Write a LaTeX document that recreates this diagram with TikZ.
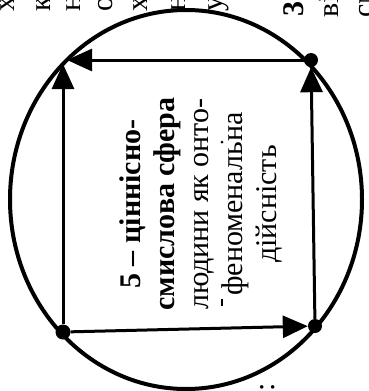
\documentclass[tikz,border=0pt]{standalone}
\usepackage{fontspec}
\setmainfont{Liberation Serif}
\usetikzlibrary{arrows.meta}
\begin{document}
\begin{tikzpicture}[x=1pt,y=-1pt,
  arr/.style={line width=3pt,-{Triangle[length=25pt,width=22pt]}},
  dotnode/.style={circle,fill=black,inner sep=0pt,minimum size=14pt},
  big/.style={font=\fontsize{30}{34}\selectfont},
  frag/.style={font=\fontsize{30}{34}\selectfont,rotate=90,anchor=base west,inner sep=0pt}]
\useasboundingbox (0,0) rectangle (368,391);
\clip (0,0) rectangle (368,391);
% outer circle
\draw[line width=4pt] (186,199.5) ellipse [x radius=176, y radius=189.5];
% corners
\coordinate (TL) at (63,60);
\node[dotnode] (TR) at (311,60) {};
\node[dotnode,minimum size=15pt] (BL) at (63,332) {};
\node[dotnode] (BR) at (315,326) {};
% square edges
\draw[arr,shorten >=4pt] (BL) -- (TL);
\draw[arr,shorten >=4pt] (TR) -- (TL);
\draw[arr] (BR) -- (TR);
\draw[arr] (BL) -- (BR);
% central text
\node[big,rotate=90,align=center,inner sep=0pt] (txt) at (201,204)
  {\textbf{5 – ціннісно-}\\ \textbf{смислова сфера}\\ людини як онто-\\ феноменальна\\ дійсність};
% stray marks
\fill (222,142) circle (1.5);
\fill (221,299) rectangle (223,306);
% cut-off fragments of neighbouring texts
\node[frag] (f1) at (14,12) {х};
\node[frag] (f2) at (50,12) {к};
\node[frag] (f3) at (80,12) {н};
\node[frag] (f4) at (112,12) {о};
\node[frag] (f5) at (147,12) {х};
\node[frag] (f6) at (185,12) {н};
\node[frag] (f7) at (222,12) {у};
\node[frag] (r1) at (303,17) {\textbf{3}};
\node[frag] (r2) at (338,18) {ві};
\node[frag] (r3) at (373,18) {см};
\node[font=\fontsize{30}{34}\selectfont,rotate=90,inner sep=0pt] (c1) at (268,387) {:};
\end{tikzpicture}
\end{document}
